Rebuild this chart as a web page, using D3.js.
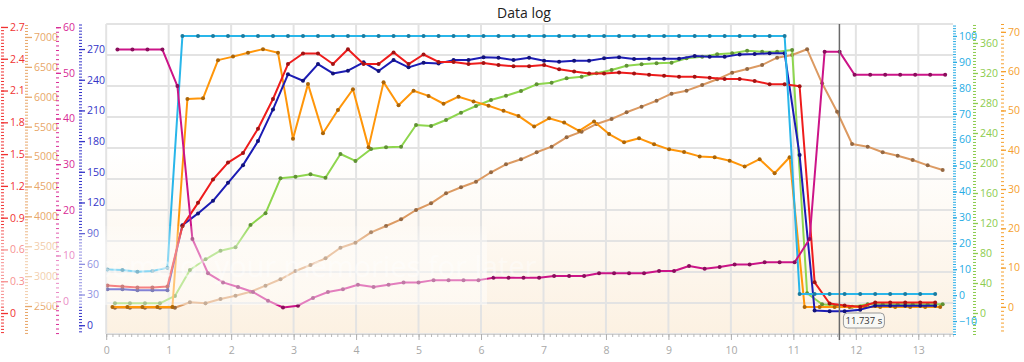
<!DOCTYPE html>
<html>
<head>
<meta charset="utf-8">
<script src="https://cdn.jsdelivr.net/npm/d3@7/dist/d3.min.js"></script>
<style>
  body { margin: 0; background: #ffffff; }
  svg { display: block; font-family: "Open Sans", "Noto Sans", sans-serif; }
</style>
</head>
<body>
<svg id="chart" width="1024" height="362"></svg>
<script>
// GLOBAL VARIABLES FOR LAYOUT
const plotLeft = 106.2;
const plotRight = 953;
const plotTop = 24;
const plotBottom = 334;
const lineWidth = 2;
const gridColor = "#e3e3e3";

// ---------------------------------------------------------------------------------
// DATA: SAMPLE TIMES (s), every channel is polled at its own moment

const timesA = [0.02, 0.26, 0.50, 0.74, 0.98, 1.22, 1.47, 1.71, 1.95, 2.19, 2.43, 2.67, 2.91, 3.15,
    3.39, 3.63, 3.87, 4.12, 4.36, 4.60, 4.84, 5.08, 5.32, 5.56, 5.80, 6.04, 6.28, 6.52, 6.77, 7.01,
    7.25, 7.49, 7.73, 7.97, 8.21, 8.45, 8.69, 8.93, 9.17, 9.42, 9.66, 9.90, 10.14, 10.38, 10.62,
    10.86, 11.10, 11.34, 11.58, 11.82, 12.07, 12.31, 12.55, 12.79, 13.03, 13.27];
const timesB = [0.10, 0.34, 0.58, 0.82, 1.06, 1.30, 1.55, 1.79, 2.03, 2.27, 2.51, 2.75, 2.99, 3.23,
    3.47, 3.71, 3.95, 4.20, 4.44, 4.68, 4.92, 5.16, 5.40, 5.64, 5.88, 6.12, 6.36, 6.60, 6.85, 7.09,
    7.33, 7.57, 7.81, 8.05, 8.29, 8.53, 8.77, 9.01, 9.25, 9.50, 9.74, 9.98, 10.22, 10.46, 10.70,
    10.94, 11.18, 11.42, 11.66, 11.90, 12.15, 12.39, 12.63, 12.87, 13.11, 13.35];
const timesC = [0.14, 0.38, 0.62, 0.86, 1.10, 1.34, 1.59, 1.83, 2.07, 2.31, 2.55, 2.79, 3.03, 3.27,
    3.51, 3.75, 3.99, 4.24, 4.48, 4.72, 4.96, 5.20, 5.44, 5.68, 5.92, 6.16, 6.40, 6.64, 6.89, 7.13,
    7.37, 7.61, 7.85, 8.09, 8.33, 8.57, 8.81, 9.05, 9.29, 9.54, 9.78, 10.02, 10.26, 10.50, 10.74,
    10.98, 11.22, 11.46, 11.70, 11.94, 12.19, 12.43, 12.67, 12.91, 13.15, 13.39];
const timesD = [0.18, 0.42, 0.66, 0.90, 1.14, 1.38, 1.63, 1.87, 2.11, 2.35, 2.59, 2.83, 3.07, 3.31,
    3.55, 3.79, 4.03, 4.28, 4.52, 4.76, 5.00, 5.24, 5.48, 5.72, 5.96, 6.20, 6.44, 6.68, 6.93, 7.17,
    7.41, 7.65, 7.89, 8.13, 8.37, 8.61, 8.85, 9.09, 9.33, 9.58, 9.82, 10.06, 10.30, 10.54, 10.78,
    11.02, 11.26, 11.50, 11.74, 11.98, 12.23, 12.47, 12.71, 12.95, 13.19, 13.43];

// ---------------------------------------------------------------------------------
// DATA: CHANNEL VALUES

const redValues = [0.26, 0.25, 0.24, 0.24, 0.25, 0.82, 1.04, 1.26, 1.42, 1.51, 1.74, 2.02, 2.35, 2.45,
    2.45, 2.35, 2.49, 2.35, 2.35, 2.46, 2.35, 2.44, 2.37, 2.37, 2.35, 2.36, 2.34, 2.33, 2.33, 2.34,
    2.30, 2.28, 2.26, 2.26, 2.27, 2.26, 2.25, 2.24, 2.23, 2.23, 2.22, 2.21, 2.21, 2.19, 2.16, 2.16,
    2.14, 0.29, 0.09, 0.07, 0.06, 0.10, 0.10, 0.10, 0.10, 0.10];
const tanValues = [2472, 2472, 2472, 2472, 2472, 2562, 2545, 2617, 2672, 2739, 2840, 2947, 3085, 3186,
    3298, 3475, 3559, 3733, 3838, 3950, 4106, 4218, 4385, 4486, 4579, 4737, 4870, 4954, 5071, 5165,
    5322, 5416, 5545, 5628, 5740, 5834, 5934, 6051, 6102, 6197, 6292, 6403, 6465, 6532, 6654, 6699,
    6794, 6225, 5750, 5210, 5165, 5071, 5014, 4942, 4853, 4775];
const magentaValues = [55.1, 55.1, 55.1, 55.1, 47.1, 13.6, 6.1, 4.1, 3.1, 2.0, 0.1, -1.4, -1.0, 0.7,
    2.0, 2.6, 3.6, 3.1, 3.6, 4.1, 4.1, 4.6, 4.6, 4.6, 4.6, 5.1, 5.1, 5.1, 5.1, 5.5, 5.5, 5.5, 6.1,
    6.1, 6.1, 6.1, 6.6, 6.6, 7.7, 7.1, 7.5, 8.0, 8.0, 8.5, 8.5, 8.5, 13.6, 54.6, 54.6, 49.6, 49.6,
    49.6, 49.6, 49.6, 49.6, 49.6];
const blueValues = [35.2, 35.2, 34.2, 34.2, 34.2, 97.8, 109.3, 121.6, 139.2, 156.5, 180, 211, 245.3,
    239, 255.3, 246.2, 248.8, 257, 248.5, 259.2, 252.1, 256.6, 256, 259.2, 259.2, 261.9, 261.5, 259.2,
    261.5, 258.6, 257.6, 258.6, 258.6, 260.9, 261.9, 260.2, 260.5, 260.5, 260.5, 263.2, 262.5, 262.5,
    264.8, 265.1, 265.8, 265.8, 166.3, 14.4, 13.7, 13.7, 15.2, 19.1, 19.1, 19.1, 19.1, 19.1];
const cyanValues = [9.9, 9.7, 9.0, 9.3, 10.6, 100, 100, 100, 100, 100, 100, 100, 100, 100, 100, 100,
    100, 100, 100, 100, 100, 100, 100, 100, 100, 100, 100, 100, 100, 100, 100, 100, 100, 100, 100, 100,
    100, 100, 100, 100, 100, 100, 100, 100, 100, 100, 0.4, 0.4, 0.4, 0.4, 0.4, 0.4, 0.4, 0.4, 0.4, 0.4];
const greenValues = [12.9, 12.9, 12.9, 12.9, 22.7, 57.3, 71.6, 83.1, 87.6, 117.3, 132.9, 179.6, 181.7,
    184.9, 180.4, 212, 202.7, 218.7, 220.9, 221.7, 250.7, 249.3, 257.3, 267.1, 276, 284, 289.7, 296,
    304.9, 307.1, 312.9, 315.1, 319.6, 324, 329.7, 331.6, 332.9, 333.7, 339.6, 341.7, 344.9, 346.3,
    349.7, 348.4, 348.4, 350.7, 26.3, 11.6, 9.7, 8.4, 11.6, 11.6, 11.6, 11.6, 11.6, 11.6];
const orangeValues = [0, 0, 0, 0, 0, 52.9, 53.1, 62.8, 63.7, 64.7, 65.6, 64.7, 42.8, 56.7, 44.2, 50.1,
    55.4, 40.6, 57.2, 51.3, 55.0, 53.7, 51.7, 53.5, 52.3, 51.2, 49.9, 48.6, 45.9, 48.0, 46.9, 44.8,
    47.2, 44.0, 41.9, 42.9, 41.4, 40.1, 39.4, 38.3, 38.1, 37.2, 35.7, 37.6, 34.0, 38.1, 0, 0, 0, 0, 0,
    0, 0, 0, 0, 0];

// ---------------------------------------------------------------------------------
// DATA: AXIS TICKS AND LABELS

const timeTicks = [0, 1, 2, 3, 4, 5, 6, 7, 8, 9, 10, 11, 12, 13];
const redTicks = [0, 0.3, 0.6, 0.9, 1.2, 1.5, 1.8, 2.1, 2.4, 2.7];
const tanTicks = [2500, 3000, 3500, 4000, 4500, 5000, 5500, 6000, 6500, 7000];
const magentaTicks = [0, 10, 20, 30, 40, 50, 60];
const blueTicks = [0, 30, 60, 90, 120, 150, 180, 210, 240, 270];
const cyanTicks = [-10, 0, 10, 20, 30, 40, 50, 60, 70, 80, 90, 100];
const greenTicks = [0, 40, 80, 120, 160, 200, 240, 280, 320, 360];
const orangeTicks = [0, 10, 20, 30, 40, 50, 60, 70];
const chartTitle = "Data log";
const cursorTime = 11.737;
const watermarkText = "some of your memories for later";

// ---------------------------------------------------------------------------------
// CHANNELS: each one has its own y axis

const channels = [
    {key: "tan", times: timesC, values: tanValues, ticks: tanTicks, step: 500, domain: [2032, 7217],
        line: "#dc9a62", label: "#e8a76a", axisX: 25, tickLen: 7},
    {key: "green", times: timesC, values: greenValues, ticks: greenTicks, step: 40, domain: [-28, 385.3],
        line: "#8ed64e", label: "#8ccc4e", axisX: 973, tickLen: 5},
    {key: "orange", times: timesB, values: orangeValues, ticks: orangeTicks, step: 10, domain: [-6.9, 72],
        line: "#ff960a", label: "#f5a02e", axisX: 1001, tickLen: 5},
    {key: "blue", times: timesA, values: blueValues, ticks: blueTicks, step: 30, domain: [-8.6, 294.5],
        line: "#1c1cb4", label: "#3434c8", axisX: 79, tickLen: 6},
    {key: "red", times: timesA, values: redValues, ticks: redTicks, step: 0.3, domain: [-0.198, 2.728],
        line: "#ee1c1c", label: "#f03232", axisX: 1, tickLen: 7},
    {key: "cyan", times: timesA, values: cyanValues, ticks: cyanTicks, step: 10, domain: [-15, 104.6],
        line: "#29b6ea", label: "#28ace4", axisX: 953, tickLen: 4},
    {key: "magenta", times: timesD, values: magentaValues, ticks: magentaTicks, step: 10, domain: [-7.2, 60.7],
        line: "#cc1488", label: "#d82a96", axisX: 56, tickLen: 5}
];

// ---------------------------------------------------------------------------------
// SET-UP: SVG, BACKGROUND, GRID

const svg = d3.select("#chart");
const defs = svg.append("defs");

const bgGradient = defs.append("linearGradient")
    .attr("id", "plot_bg")
    .attr("x1", 0).attr("y1", 0)
    .attr("x2", 0).attr("y2", 1);
bgGradient.append("stop").attr("offset", "0%").attr("stop-color", "#ffffff");
bgGradient.append("stop").attr("offset", "40%").attr("stop-color", "#ffffff");
bgGradient.append("stop").attr("offset", "100%").attr("stop-color", "#fcf1e2");

// the wash fades in at its top so no hard edge shows
const washGradient = defs.append("linearGradient")
    .attr("id", "wash")
    .attr("x1", 0).attr("y1", 0)
    .attr("x2", 0).attr("y2", 1);
washGradient.append("stop").attr("offset", "0%").attr("stop-color", "#ffffff").attr("stop-opacity", 0.1);
washGradient.append("stop").attr("offset", "25%").attr("stop-color", "#ffffff").attr("stop-opacity", 0.45);
washGradient.append("stop").attr("offset", "100%").attr("stop-color", "#ffffff").attr("stop-opacity", 0.45);

defs.append("clipPath")
    .attr("id", "plot_clip")
    .append("rect")
    .attr("x", plotLeft)
    .attr("y", plotTop - 4)
    .attr("width", plotRight - plotLeft)
    .attr("height", plotBottom - plotTop + 8);

svg.append("rect")
    .attr("x", plotLeft)
    .attr("y", plotTop)
    .attr("width", plotRight - plotLeft)
    .attr("height", plotBottom - plotTop)
    .attr("fill", "url(#plot_bg)");

const xScale = d3.scaleLinear()
    .domain([0, (plotRight - plotLeft) / 62.47])
    .range([plotLeft, plotRight]);

// horizontal grid splits the plot in ten rows, independent of the axes
const rowScale = d3.scaleLinear().domain([0, 10]).range([plotTop, plotBottom]);

const grid = svg.append("g").attr("class", "grid");
grid.selectAll(".vgrid")
    .data(timeTicks)
    .join("line")
    .attr("x1", d => xScale(d)).attr("x2", d => xScale(d))
    .attr("y1", plotTop).attr("y2", plotBottom)
    .attr("stroke", gridColor)
    .attr("stroke-width", 2);
grid.selectAll(".hgrid")
    .data(d3.range(0, 11))
    .join("line")
    .attr("x1", plotLeft).attr("x2", plotRight)
    .attr("y1", d => rowScale(d)).attr("y2", d => rowScale(d))
    .attr("stroke", gridColor)
    .attr("stroke-width", 2);

// ---------------------------------------------------------------------------------
// X AXIS

const minorTime = d3.range(0, 13.55, 0.1).map(d => Math.round(d * 10) / 10);

const xMinor = svg.append("g")
    .attr("transform", `translate(0,${plotBottom})`)
    .call(d3.axisBottom(xScale).tickValues(minorTime)
        .tickSize(3).tickFormat(""));
xMinor.select(".domain").attr("stroke", "#d0d0d0");
xMinor.selectAll(".tick line").attr("stroke", "#b8b8b8");

const xAxis = svg.append("g")
    .attr("transform", `translate(0,${plotBottom})`)
    .call(d3.axisBottom(xScale).tickValues(timeTicks)
        .tickSize(6).tickPadding(7).tickFormat(d3.format("d")));
xAxis.select(".domain").remove();
xAxis.selectAll(".tick line").attr("stroke", "#b0b0b0");
xAxis.selectAll(".tick text")
    .attr("fill", "#a8a8a8")
    .attr("font-size", "10.5px")
    .attr("font-family", "\"Open Sans\", sans-serif");

// ---------------------------------------------------------------------------------
// Y AXES AND LINES

const plotLayer = svg.append("g").attr("clip-path", "url(#plot_clip)");

channels.forEach(function(c) {
    c.scale = d3.scaleLinear().domain(c.domain).range([plotBottom, plotTop]);

    // minor ticks, ten per labelled step
    let minorStep = c.step / 10;
    let minorValues = d3.range(Math.ceil(c.domain[0] / minorStep), Math.floor(c.domain[1] / minorStep) + 1)
        .map(i => i * minorStep);

    let minorAxis = svg.append("g")
        .attr("transform", `translate(${c.axisX},0)`)
        .call(d3.axisRight(c.scale).tickValues(minorValues).tickSize(3).tickFormat(""));
    minorAxis.select(".domain").remove();
    minorAxis.selectAll(".tick line")
        .attr("stroke", c.label)
        .attr("stroke-width", 1);

    let format = c.step < 1 ? d3.format(".1f") : d3.format("d");
    let majorAxis = svg.append("g")
        .attr("transform", `translate(${c.axisX},0)`)
        .call(d3.axisRight(c.scale).tickValues(c.ticks).tickSize(c.tickLen).tickPadding(2)
            .tickFormat(d => d === 0 ? "0" : format(d)));
    majorAxis.select(".domain").remove();
    majorAxis.selectAll(".tick line")
        .attr("stroke", c.label)
        .attr("stroke-width", 1.3);
    majorAxis.selectAll(".tick text")
        .attr("fill", c.label)
        .attr("font-size", "10.5px")
        .attr("font-family", "\"Open Sans\", sans-serif");

    // the line itself
    let points = c.times.map((t, i) => ({t: t, v: c.values[i]}));
    let lineGen = d3.line()
        .x(d => xScale(d.t))
        .y(d => c.scale(d.v));

    plotLayer.append("path")
        .datum(points)
        .attr("d", lineGen)
        .attr("fill", "none")
        .attr("stroke", c.line)
        .attr("stroke-width", lineWidth)
        .attr("stroke-linejoin", "round");

    plotLayer.selectAll(`.dot_${c.key}`)
        .data(points)
        .join("circle")
        .attr("class", `dot_${c.key}`)
        .attr("cx", d => xScale(d.t))
        .attr("cy", d => c.scale(d.v))
        .attr("r", 2)
        .attr("fill", d3.color(c.line).darker(1.1));
});

// ---------------------------------------------------------------------------------
// WATERMARK: a pale wash over the lower left part

svg.append("rect")
    .attr("x", 0)
    .attr("y", 226)
    .attr("width", 487)
    .attr("height", 79)
    .attr("fill", "url(#wash)");

plotLayer.append("text")
    .attr("x", 98)
    .attr("y", 277)
    .attr("font-size", "29px")
    .attr("fill", "#ffffff")
    .attr("opacity", 0.4)
    .text(watermarkText);

// ---------------------------------------------------------------------------------
// CURSOR AND TITLE

const cursorX = xScale(cursorTime);

svg.append("line")
    .attr("x1", cursorX).attr("x2", cursorX)
    .attr("y1", plotTop).attr("y2", plotBottom + 6)
    .attr("stroke", "#6a6a6a")
    .attr("stroke-width", 1.5);

svg.append("rect")
    .attr("x", cursorX + 4)
    .attr("y", 313)
    .attr("width", 41)
    .attr("height", 15)
    .attr("rx", 4)
    .attr("fill", "#f8f8f5")
    .attr("stroke", "#9a9a9a");

svg.append("text")
    .attr("x", cursorX + 24.5)
    .attr("y", 324)
    .attr("text-anchor", "middle")
    .attr("font-size", "9.5px")
    .attr("fill", "#333333")
    .text(`${cursorTime} s`);

svg.append("text")
    .attr("x", 524)
    .attr("y", 18)
    .attr("text-anchor", "middle")
    .attr("font-size", "14px")
    .attr("fill", "#222222")
    .text(chartTitle);
</script>
</body>
</html>
